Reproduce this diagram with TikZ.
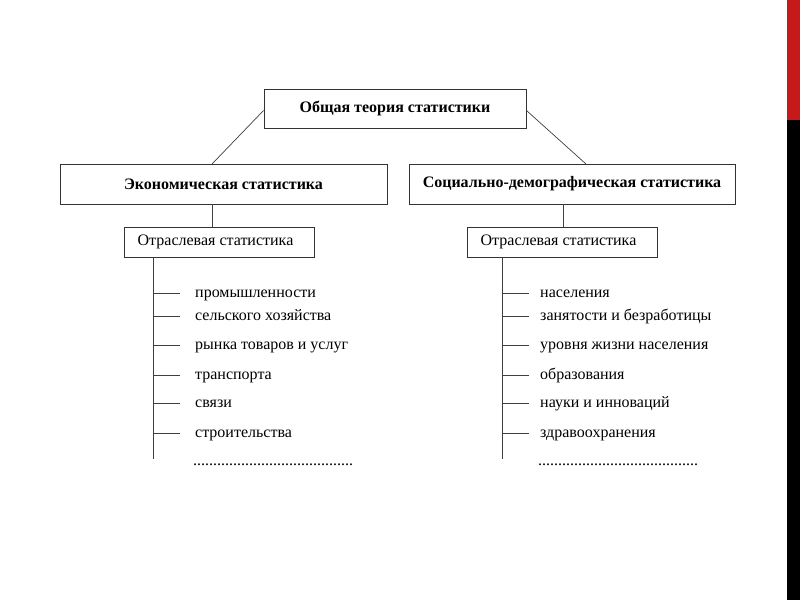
\documentclass[tikz,border=0pt]{standalone}
\usepackage{fontspec}
\setmainfont{Liberation Serif}
\tikzset{
    headbox/.style={draw=black!80, line width=0.9pt, fill=white, font=\fontsize{16}{18}\selectfont\bfseries, inner sep=0pt},
    subbox/.style={draw=black!80, line width=0.8pt, fill=white, font=\fontsize{16}{18}\selectfont, inner sep=0pt, minimum width=190pt, minimum height=30pt},
    item/.style={anchor=base west, font=\fontsize{16}{18}\selectfont, inner sep=0pt},
    link/.style={draw=black!75, line width=0.7pt}
}
\begin{document}
\begin{tikzpicture}[x=1pt, y=-1pt]
    \useasboundingbox (0,0) rectangle (800,600);
    \fill[white] (0,0) rectangle (800,600);

    % slide edge
    \fill[red!75!black!90] (787,0) rectangle (800,120);
    \fill[black] (787,120) rectangle (800,600);

    % top level
    \node[headbox, minimum width=262pt, minimum height=39pt] (general) at (395,108.5) {Общая теория статистики};

    % second level
    \node[headbox, minimum width=327pt, minimum height=40pt] (econ) at (223.5,184) {Экономическая статистика};
    \node[headbox, minimum width=326pt, minimum height=40pt] (socdem) at (572,184) {Социально-демографическая статистика};

    \coordinate (econtop) at (212,164);
    \coordinate (socdemtop) at (586,164);
    \draw[link] ([yshift=-2pt]general.west) -- (econtop);
    \draw[link] ([yshift=-2pt]general.east) -- (socdemtop);

    % branch boxes
    \node[subbox] (econbranch) at (219.5,242) {\hspace*{-8pt}Отраслевая статистика};
    \node[subbox] (socbranch) at (562.5,242) {\hspace*{-8pt}Отраслевая статистика};

    \draw[link] (econ.south -| econtop) -- (econbranch.north -| econtop);
    \draw[link] (socdem.south -| 563,0) -- (socbranch.north -| 563,0);

    % left list
    \coordinate (econend) at (153,459);
    \draw[link] (econbranch.south -| econend) -- (econend);
    \foreach \y/\txt/\nm in {293/промышленности/e1, 316/сельского хозяйства/e2, 345/рынка товаров и услуг/e3,
                             375/транспорта/e4, 403/связи/e5, 433/строительства/e6} {
        \node[item] (\nm) at (195,\y+4) {\txt};
        \draw[link] (153,\y) -- ++(27,0);
    }
    \node[item] (edots) at (193,465) {........................................};

    % right list
    \coordinate (socend) at (502,459);
    \draw[link] (socbranch.south -| socend) -- (socend);
    \foreach \y/\txt/\nm in {293/населения/s1, 316/занятости и безработицы/s2, 345/уровня жизни населения/s3,
                             375/образования/s4, 403/науки и инноваций/s5, 433/здравоохранения/s6} {
        \node[item] (\nm) at (540,\y+4) {\txt};
        \draw[link] (502,\y) -- ++(27,0);
    }
    \node[item] (sdots) at (538,465) {........................................};
\end{tikzpicture}
\end{document}
